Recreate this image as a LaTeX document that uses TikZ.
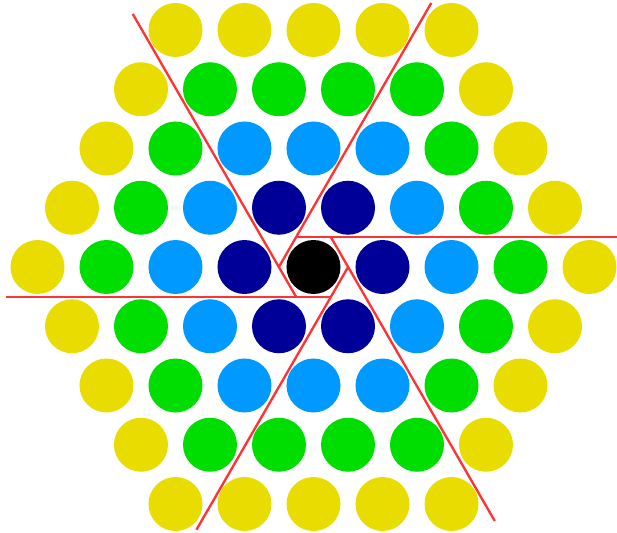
\documentclass[tikz,border=0pt]{standalone}
\usepackage{xcolor}
\usetikzlibrary{calc}
\definecolor{ring0}{HTML}{000000}
\definecolor{ring1}{HTML}{000099}
\definecolor{ring2}{HTML}{0099FF}
\definecolor{ring3}{HTML}{00DD00}
\definecolor{ring4}{HTML}{E8DC00}
\definecolor{cutline}{HTML}{FF3333}

\begin{document}
\begin{tikzpicture}[
  x=0.03cm,y=0.03cm,
  disc/.style={circle,inner sep=0pt,minimum size=1.62cm},
  cut/.style={draw=cutline,line width=0.07cm}
]
\useasboundingbox (-313.5,-266) rectangle (303.5,267);
\foreach \r in {-4,...,4}{
  \pgfmathtruncatemacro\qlo{max(-4,-4-\r)}
  \pgfmathtruncatemacro\qhi{min(4,4-\r)}
  \foreach \q in {\qlo,...,\qhi}{
    \pgfmathtruncatemacro\ring{max(abs(\q),abs(\r),abs(\q+\r))}
    \node[disc,fill=ring\ring] (disc\r x\q) at ({69*(\q+\r/2)},{-59.25*\r}) {};
  }
}
\foreach \k/\len in {0/320.8,1/304.8,2/326.8,3/324.8,4/303.3,5/327.9}{
  \coordinate (hub\k) at ({60*\k+120}:34.64);
  \coordinate (rim\k) at ($(hub\k)+({60*\k}:\len)$);
  \draw[cut] (hub\k) -- (rim\k);
}
\end{tikzpicture}
\end{document}
